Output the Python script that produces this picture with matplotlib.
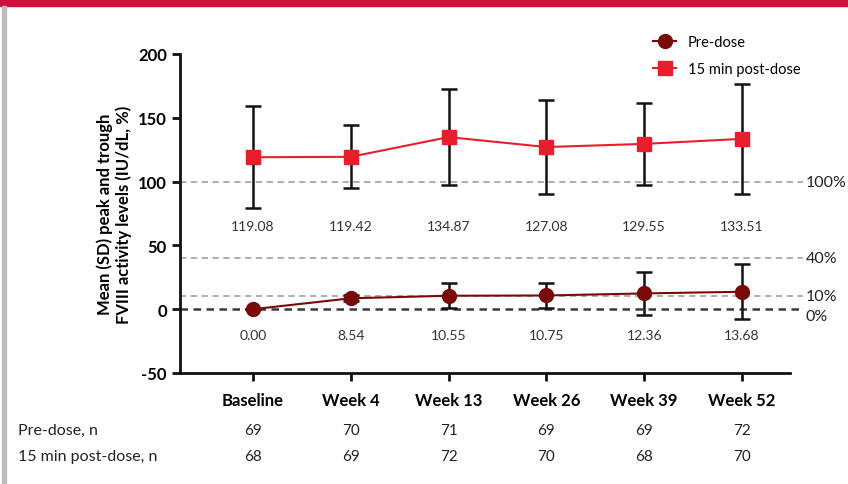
"""Peak and trough FVIII activity levels over 52 weeks."""

import matplotlib.pyplot as plt
from matplotlib.lines import Line2D
from matplotlib.patches import Rectangle

plt.rcParams["font.family"] = ["Lato", "DejaVu Sans"]

VISITS = ["Baseline", "Week 4", "Week 13", "Week 26", "Week 39", "Week 52"]
PRE_MEAN = [0.00, 8.54, 10.55, 10.75, 12.36, 13.68]
PRE_SD = [0.0, 2.5, 9.8, 10.0, 16.8, 21.7]
POST_MEAN = [119.08, 119.42, 134.87, 127.08, 129.55, 133.51]
POST_SD = [40.0, 24.8, 37.7, 36.7, 32.0, 43.0]
PRE_N = [69, 70, 71, 69, 69, 72]
POST_N = [68, 69, 72, 70, 68, 70]
REF_LEVELS = [100, 40, 10, 0]
REF_LABELS = ["100%", "40%", "10%", "0%"]

PRE_COLOR = "#7a0a0a"
POST_COLOR = "#e91e2c"


def main():
    fig = plt.figure(figsize=(8.48, 4.85), dpi=100)

    # page decoration: red header band and grey margin rule
    fig.patches.append(Rectangle((0, 1 - 7 / 485), 1, 7 / 485, transform=fig.transFigure,
                                 color="#d0103a", zorder=0))
    fig.patches.append(Rectangle((2 / 848, 0), 4 / 848, 1 - 7 / 485, transform=fig.transFigure,
                                 color="#bdbdbd", zorder=0))

    ax = fig.add_axes([180 / 848, 1 - 374 / 485, 610 / 848, 319 / 485])
    x = list(range(len(VISITS)))
    xmin, xmax = -0.745, 5.49
    ax.set_xlim(xmin, xmax)
    ax.set_ylim(-50, 200)

    # reference thresholds
    line_end = 5.62
    for level, label in zip(REF_LEVELS, REF_LABELS):
        if level == 0:
            ax.plot([xmin, line_end], [0, 0], ls=(0, (3, 2.2)), color="#3a3a3a",
                    lw=1.8, clip_on=False, zorder=1)
            ty = -5
        else:
            ax.plot([xmin, line_end], [level, level], ls=(0, (3.5, 2.5)), color="#a8a8a8",
                    lw=1.3, clip_on=False, zorder=1)
            ty = level
        ax.text(line_end + 0.03, ty, label, va="center", ha="left", fontsize=11.5,
                color="#222222", clip_on=False)

    ax.errorbar(x, POST_MEAN, yerr=POST_SD, color=POST_COLOR, marker="s", markersize=10,
                lw=1.5, ecolor="#111111", elinewidth=1.8, capsize=6, capthick=1.8, zorder=3)
    ax.errorbar(x, PRE_MEAN, yerr=PRE_SD, color=PRE_COLOR, marker="o", markersize=10,
                lw=1.5, ecolor="#111111", elinewidth=1.8, capsize=6, capthick=1.8, zorder=4)

    # mean values printed under each series
    for xi, v in zip(x, POST_MEAN):
        ax.text(xi, 65, f"{v:.2f}", ha="center", va="center", fontsize=10, color="#333333")
    for xi, v in zip(x, PRE_MEAN):
        ax.text(xi, -20, f"{v:.2f}", ha="center", va="center", fontsize=10, color="#333333")

    ax.set_xticks(x)
    ax.set_xticklabels(VISITS, fontsize=12, fontweight="bold")
    ax.set_yticks([-50, 0, 50, 100, 150, 200])
    ax.set_yticklabels(["-50", "0", "50", "100", "150", "200"], fontsize=12, fontweight="bold")
    ax.tick_params(axis="both", direction="out", length=6, width=2, color="#111111")
    ax.tick_params(axis="x", pad=8)
    ax.set_ylabel("Mean (SD) peak and trough\nFVIII activity levels (IU/dL, %)",
                  fontsize=12, fontweight="bold", labelpad=4)
    for side in ("top", "right"):
        ax.spines[side].set_visible(False)
    for side in ("left", "bottom"):
        ax.spines[side].set_linewidth(2)
        ax.spines[side].set_color("#111111")

    handles = [
        Line2D([], [], color=PRE_COLOR, marker="o", markersize=10, lw=1.5),
        Line2D([], [], color=POST_COLOR, marker="s", markersize=10, lw=1.5),
    ]
    ax.legend(handles, ["Pre-dose", "15 min post-dose"], loc="upper left",
              bbox_to_anchor=(0.754, 1.10), frameon=False, fontsize=10.5,
              handlelength=1.6, labelspacing=0.9)

    # patient counts table under the axis
    for row_y, name, counts in [(431, "Pre-dose, n", PRE_N), (457, "15 min post-dose, n", POST_N)]:
        fy = 1 - row_y / 485
        fig.text(18 / 848, fy, name, ha="left", va="center", fontsize=11.5, color="#222222")
        for xi, n in zip(x, counts):
            px = ax.transData.transform((xi, 0))[0]
            fig.text(px / fig.bbox.width, fy, str(n), ha="center", va="center",
                     fontsize=11, color="#222222")

    fig.savefig("out.png", dpi=100)
    plt.close(fig)


if __name__ == "__main__":
    main()
